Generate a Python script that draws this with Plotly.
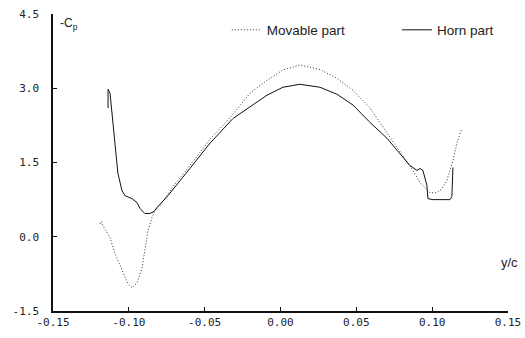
import plotly.graph_objects as go

# Movable part (dotted)
movable_x = [-0.1190, -0.1182, -0.1170, -0.1124, -0.1091, -0.1045, -0.1006, -0.0979, -0.0946, -0.0913,
             -0.0894, -0.0874, -0.0847, -0.0828, -0.0795, -0.0700, -0.0597, -0.0465, -0.0320, -0.0201,
             -0.0089, 0.0016, 0.0128, 0.0260, 0.0372, 0.0478, 0.0590, 0.0702, 0.0807, 0.0873,
             0.0919, 0.0952, 0.0985, 0.1031, 0.1064, 0.1097, 0.1137, 0.1163, 0.1196]
movable_y = [0.26, 0.31, 0.22, -0.02, -0.34, -0.69, -0.95, -1.03, -0.93, -0.63,
             -0.28, 0.12, 0.39, 0.53, 0.63, 1.05, 1.44, 1.97, 2.45, 2.90,
             3.16, 3.37, 3.47, 3.38, 3.20, 2.96, 2.60, 2.11, 1.64, 1.34,
             1.10, 1.00, 0.89, 0.89, 0.97, 1.14, 1.54, 1.89, 2.19]

# Horn part (solid)
horn_x = [-0.1137, -0.1137, -0.1124, -0.1111, -0.1091, -0.1072, -0.1045, -0.1025, -0.0979, -0.0946,
          -0.0926, -0.0894, -0.0861, -0.0834, -0.0814, -0.0742, -0.0597, -0.0465, -0.0313, -0.0201,
          -0.0089, 0.0016, 0.0128, 0.0260, 0.0372, 0.0478, 0.0590, 0.0702, 0.0807, 0.0853,
          0.0900, 0.0919, 0.0939, 0.0952, 0.0965, 0.0972, 0.1005, 0.1117, 0.1130, 0.1137]
horn_y = [2.60, 2.98, 2.90, 2.49, 1.81, 1.28, 0.93, 0.83, 0.77, 0.69,
          0.57, 0.47, 0.47, 0.51, 0.59, 0.83, 1.38, 1.89, 2.39, 2.62,
          2.86, 3.02, 3.08, 3.02, 2.88, 2.66, 2.31, 1.99, 1.60, 1.44,
          1.34, 1.38, 1.34, 1.20, 1.04, 0.77, 0.75, 0.75, 0.81, 1.40]

x_ticks = [-0.15, -0.10, -0.05, 0.00, 0.05, 0.10, 0.15]
x_tick_text = ["-0.15", "-0.10", "-0.05", "0.00", "0.05", "0.10", "0.15"]
y_ticks = [-1.5, 0.0, 1.5, 3.0, 4.5]
y_tick_text = ["-1.5", "0.0", "1.5", "3.0", "4.5"]

fig = go.Figure()
fig.add_trace(go.Scatter(x=movable_x, y=movable_y, mode="lines", name="Movable part",
                         line=dict(color="#333333", width=1, dash="1px,2px"), legend="legend"))
fig.add_trace(go.Scatter(x=horn_x, y=horn_y, mode="lines", name="Horn part",
                         line=dict(color="#111111", width=1), legend="legend2"))

tick_font = dict(family="DejaVu Sans Mono", size=11, color="#222222")
legend_common = dict(orientation="h", y=0.946, yanchor="middle", xanchor="left",
                     bgcolor="rgba(0,0,0,0)", font=dict(size=13.5), itemwidth=30, visible=True)
fig.update_layout(
    width=525, height=338,
    margin=dict(l=53, r=17, t=14, b=27),
    paper_bgcolor="white", plot_bgcolor="white",
    showlegend=True,
    font=dict(family="Liberation Sans, Arial", size=12, color="#222222"),
    legend=dict(x=0.382, **legend_common),
    legend2=dict(x=0.756, **legend_common),
    xaxis=dict(range=[-0.15, 0.15], tickvals=x_ticks, ticktext=x_tick_text, automargin=False,
               showgrid=False, zeroline=False, showline=True, linecolor="#111111", linewidth=1.5,
               ticks="inside", ticklen=4, tickcolor="#111111", tickfont=tick_font),
    yaxis=dict(range=[-1.5, 4.5], tickvals=y_ticks, ticktext=y_tick_text, automargin=False,
               showgrid=False, zeroline=False, showline=True, linecolor="#111111", linewidth=1.5,
               ticks="inside", ticklen=4, tickcolor="#111111", tickfont=tick_font,
               ticklabelstandoff=10),
    annotations=[
        dict(text="-C<sub>p</sub>", xref="paper", yref="paper", x=0.012, y=1.0,
             xanchor="left", yanchor="top", showarrow=False, font=dict(size=12)),
        dict(text="y/c", xref="paper", yref="paper", x=1.026, y=0.162,
             xanchor="right", yanchor="middle", showarrow=False, font=dict(size=13)),
    ],
)

fig.write_html("out.html", config={"displayModeBar": False},
               post_script="document.body.style.margin='0';")
